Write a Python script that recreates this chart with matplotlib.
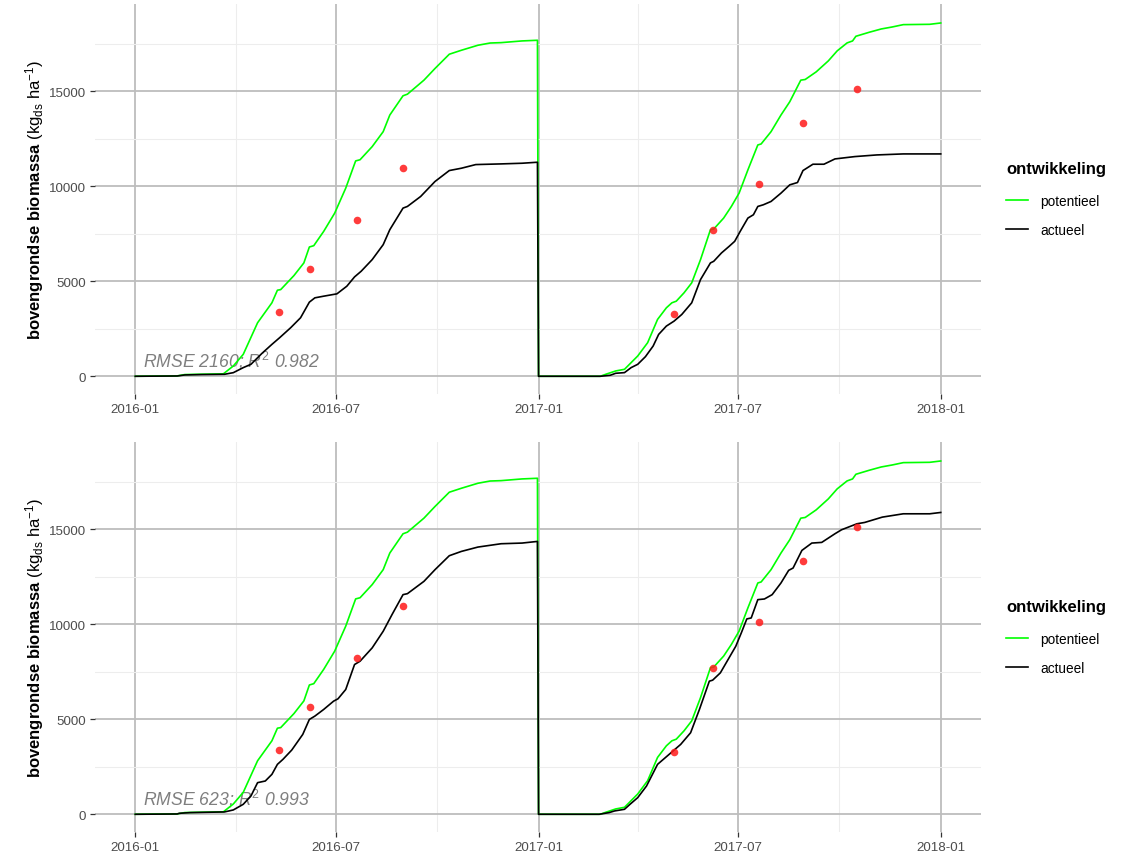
import matplotlib
matplotlib.use('Agg')
import matplotlib.pyplot as plt
import matplotlib.dates as mdates
import numpy as np
import pandas as pd

plt.rcParams['font.family'] = ['Liberation Sans', 'DejaVu Sans']
plt.rcParams['mathtext.fontset'] = 'custom'
plt.rcParams['mathtext.rm'] = 'Liberation Sans'
plt.rcParams['mathtext.it'] = 'Liberation Sans:italic'
plt.rcParams['mathtext.bf'] = 'Liberation Sans:bold'

# --- data (day of year, kg ds / ha) ---
# potentieel (same in both panels)
pot16_doy = [0, 38, 45, 60, 80, 89, 98, 111, 124, 129, 132, 144, 153, 158, 162, 171, 181, 191,
             200, 204, 215, 225, 231, 243, 247, 262, 272, 285, 296, 311, 322, 332, 351, 365]
pot16 = [0, 20, 90, 110, 130, 542, 1154, 2815, 3864, 4528, 4560, 5297, 5962, 6801, 6870, 7622,
         8584, 9895, 11329, 11390, 12080, 12867, 13741, 14755, 14840, 15577, 16189, 16941, 17150,
         17413, 17530, 17550, 17640, 17675]
pot17_doy = [0, 56, 61, 70, 78, 84, 90, 99, 108, 116, 121, 125, 132, 139, 147, 156, 159, 168,
             175, 182, 190, 199, 202, 211, 220, 228, 238, 242, 252, 263, 271, 280, 285, 288,
             300, 311, 321, 331, 355, 365]
pot17 = [0, 0, 105, 280, 367, 717, 1066, 1766, 2990, 3601, 3864, 3951, 4388, 4913, 6136, 7710,
         7745, 8322, 8934, 9633, 10857, 12168, 12220, 12867, 13741, 14441, 15577, 15612, 16014,
         16591, 17115, 17535, 17640, 17885, 18094, 18269, 18374, 18497, 18514, 18584]

# actueel, bovenste paneel
act16_a_doy = [0, 38, 45, 60, 81, 89, 98, 105, 115, 124, 131, 141, 150, 158, 163, 171, 183, 192,
               199, 205, 215, 225, 231, 243, 247, 259, 272, 285, 296, 309, 332, 351, 365]
act16_a = [0, 15, 70, 90, 105, 190, 455, 630, 1206, 1678, 2028, 2552, 3077, 3900, 4126, 4213,
           4336, 4738, 5227, 5524, 6136, 6923, 7710, 8846, 8934, 9458, 10245, 10822, 10944, 11136,
           11171, 11206, 11259]
act17_a_doy = [0, 56, 65, 70, 78, 84, 90, 97, 104, 109, 116, 123, 130, 139, 147, 156, 159, 166,
               173, 178, 183, 190, 195, 199, 204, 211, 220, 228, 235, 240, 249, 259, 269, 287,
               307, 331, 365]
act17_a = [0, 0, 52, 157, 192, 455, 629, 1031, 1591, 2203, 2640, 2902, 3252, 3864, 5087, 5962,
           6049, 6486, 6836, 7098, 7622, 8322, 8496, 8934, 9021, 9196, 9633, 10070, 10192, 10822,
           11154, 11154, 11433, 11556, 11643, 11696, 11696]

# actueel, onderste paneel
act16_b_doy = [0, 38, 40, 50, 81, 89, 98, 105, 111, 118, 124, 129, 134, 142, 152, 158, 163, 171,
               180, 184, 191, 199, 204, 215, 225, 233, 243, 247, 262, 272, 285, 296, 311, 332,
               351, 365]
act16_b = [0, 15, 52, 88, 123, 228, 525, 963, 1663, 1750, 2100, 2626, 2888, 3378, 4201, 4989,
           5164, 5514, 5951, 6074, 6564, 7877, 8052, 8752, 9627, 10502, 11553, 11605, 12253,
           12865, 13601, 13828, 14056, 14231, 14266, 14353]
act17_b_doy = [0, 55, 64, 69, 78, 83, 90, 98, 108, 115, 122, 129, 138, 146, 155, 158, 165, 172,
               179, 184, 189, 193, 199, 205, 212, 220, 227, 231, 239, 248, 257, 269, 275, 289,
               296, 312, 331, 355, 365]
act17_b = [0, 0, 87, 175, 262, 525, 875, 1488, 2626, 2976, 3326, 3676, 4289, 5514, 7002, 7054,
           7439, 8139, 8839, 9539, 10275, 10327, 11290, 11325, 11553, 12166, 12831, 12953, 13880,
           14266, 14301, 14756, 14966, 15281, 15351, 15631, 15806, 15806, 15876]

# metingen
obs16_doy = [130, 159, 201, 243]
obs16 = [3374, 5647, 8199, 10979]
obs17_doy = [123, 158, 200, 240, 289]
obs17 = [3252, 7675, 10105, 13304, 15087]

fit_labels = [r'RMSE 2160; $R^2$ 0.982', r'RMSE 623; $R^2$ 0.993']
series_names = ['potentieel', 'actueel']


def to_dates(doy, year):
    return pd.Timestamp(f'{year}-01-01') + pd.to_timedelta(doy, unit='D')


def join(d16, v16, d17, v17):
    x = to_dates(d16, 2016).append(to_dates(d17, 2017))
    return x, list(v16) + list(v17)


pot_x, pot_y = join(pot16_doy, pot16, pot17_doy, pot17)
act_sets = [join(act16_a_doy, act16_a, act17_a_doy, act17_a),
            join(act16_b_doy, act16_b, act17_b_doy, act17_b)]
obs_x = to_dates(obs16_doy, 2016).append(to_dates(obs17_doy, 2017))
obs_y = obs16 + obs17

W, H = 1135, 853
fig = plt.figure(figsize=(W / 100, H / 100), dpi=100)
panels = [(95, 5, 981, 395), (95, 443, 981, 833)]

x0 = pd.Timestamp('2016-01-01')
x1 = pd.Timestamp('2018-01-01')
pad = (x1 - x0) * 0.05

for i, (l, t, r, b) in enumerate(panels):
    ax = fig.add_axes([l / W, 1 - b / H, (r - l) / W, (b - t) / H])
    ax.set_xlim(x0 - pad, x1 + pad)
    ymax = 18650
    ax.set_ylim(-0.05 * ymax, 1.05 * ymax)

    ax.xaxis.set_major_locator(mdates.MonthLocator(bymonth=[1, 7]))
    ax.xaxis.set_minor_locator(mdates.MonthLocator(bymonth=[4, 10]))
    ax.xaxis.set_major_formatter(mdates.DateFormatter('%Y-%m'))
    ax.set_yticks([0, 5000, 10000, 15000])
    ax.set_yticks([2500, 7500, 12500, 17500], minor=True)

    ax.grid(which='major', color='#bdbdbd', lw=1.3)
    ax.grid(which='minor', color='#ededed', lw=0.8)
    ax.set_axisbelow(True)
    for s in ax.spines.values():
        s.set_visible(False)
    ax.tick_params(which='major', length=3.5, width=0.9, color='#333333',
                   labelsize=9.6, labelcolor='#4d4d4d', pad=3)
    ax.tick_params(which='minor', length=0)

    ax.text(x0 + pd.Timedelta(days=7), 840, fit_labels[i], fontsize=12.7, style='italic',
            color='#7f7f7f', va='center', ha='left', zorder=1)

    ax.plot(pot_x, pot_y, color='#00ff00', lw=1.2, label=series_names[0], zorder=3)
    ax_x, ax_y = act_sets[i]
    ax.plot(ax_x, ax_y, color='black', lw=1.2, label=series_names[1], zorder=3)
    ax.scatter(obs_x, obs_y, s=30, color='#ff1a1a', alpha=0.85, lw=0, zorder=4)

    ax.set_ylabel(r'$\mathbf{bovengrondse\ biomassa}$ (kg$_{\mathrm{ds}}$ ha$^{-1}$)',
                  fontsize=12, labelpad=2)

    leg = ax.legend(loc='upper left', bbox_to_anchor=(994 / W, 1 - (t + 145) / H),
                    bbox_transform=fig.transFigure, frameon=False, title='ontwikkeling',
                    fontsize=9.8, title_fontproperties={'weight': 'bold', 'size': 12},
                    handlelength=1.6, handletextpad=0.9, labelspacing=1.1)
    leg._legend_box.align = 'left'
    leg._legend_box.sep = 12.5

fig.savefig('out.png', dpi=100)
